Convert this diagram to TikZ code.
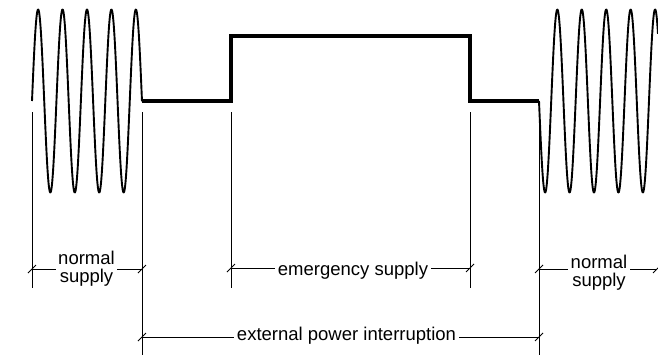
\documentclass[tikz,border=0pt]{standalone}
\usepackage{fontspec}
\setmainfont{Liberation Sans}
\begin{document}
\begin{tikzpicture}[x=1pt,y=-1pt,
  wave/.style={line width=1.9pt,line join=round},
  stepline/.style={line width=3.2pt,line join=miter},
  extline/.style={line width=0.9pt},
  dimline/.style={line width=0.9pt},
  dimtick/.style={line width=0.9pt},
  dimlabel/.style={fill=white,inner xsep=2.5pt,inner ysep=0pt,align=center,
    font=\fontsize{18.5}{18.5}\selectfont}]
\useasboundingbox (0,0) rectangle (658,359);
% key points
\coordinate (s1) at (142,101);
\coordinate (s2) at (231,101);
\coordinate (s3) at (231,36);
\coordinate (s4) at (470,36);
\coordinate (s5) at (470,101);
\coordinate (s6) at (539,101);
% waves
\draw[wave] plot[domain=32:142,samples=400] (\x,{101-91.5*sin(((\x-32)/24.44)*360)});
\draw[wave] plot[domain=539:658,samples=400] (\x,{101+91.5*sin(((\x-539)/24.44)*360)});
% step signal
\draw[stepline] (s1) -- (s2) -- (s3) -- (s4) -- (s5) -- (s6);
% extension lines
\coordinate (e1t) at (32,112);  \coordinate (e1b) at (32,288);
\coordinate (e2t) at (142,112); \coordinate (e2b) at (142,355);
\coordinate (e3t) at (231,112); \coordinate (e3b) at (231,288);
\coordinate (e4t) at (470,112); \coordinate (e4b) at (470,288);
\coordinate (e5b) at (539,355);
\draw[extline] (e1t) -- (e1b);
\draw[extline] (e2t) -- (e2b);
\draw[extline] (e3t) -- (e3b);
\draw[extline] (e4t) -- (e4b);
\draw[extline] (s6) -- (e5b);
% dimension end points
\coordinate (d1a) at (32,269);  \coordinate (d1b) at (142,269);
\coordinate (d2a) at (231,268); \coordinate (d2b) at (470,268);
\coordinate (d3a) at (142,337); \coordinate (d3b) at (539,337);
\coordinate (d4a) at (539,269); \coordinate (d4b) at (657,269);
\draw[dimline] (d1a) -- (d1b);
\draw[dimline] (d2a) -- (d2b);
\draw[dimline] (d3a) -- (d3b);
\draw[dimline] (d4a) -- (d4b);
\foreach \t in {d1a,d1b,d2a,d2b,d3a,d3b,d4a,d4b}
  \draw[dimtick] (\t) ++(-4,4) -- ++(8,-8);
% labels
\node[dimlabel] (l1) at (86.5,268.6) {normal\\supply};
\node[dimlabel] (l2) at (353,270.3) {emergency supply};
\node[dimlabel] (l3) at (346.5,335.3) {external power interruption};
\node[dimlabel] (l4) at (599,272.5) {normal\\supply};
\end{tikzpicture}
\end{document}
